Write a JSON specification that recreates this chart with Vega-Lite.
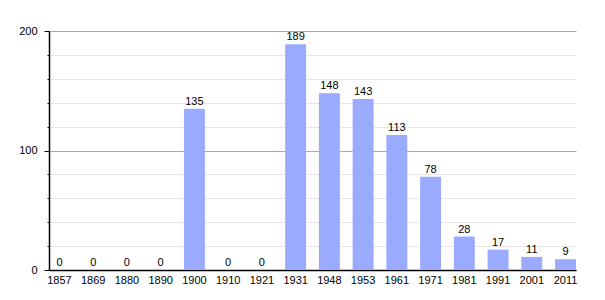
{
  "$schema": "https://vega.github.io/schema/vega-lite/v6.json",
  "autosize": "none",
  "padding": {"left": 49, "top": 31, "right": 29, "bottom": 30},
  "width": 527,
  "height": 239,
  "background": "white",
  "config": {"view": {"stroke": null}, "font": "Liberation Sans"},
  "data": {"values": [
    {"year": "1857", "pop": 0},
    {"year": "1869", "pop": 0},
    {"year": "1880", "pop": 0},
    {"year": "1890", "pop": 0},
    {"year": "1900", "pop": 135},
    {"year": "1910", "pop": 0},
    {"year": "1921", "pop": 0},
    {"year": "1931", "pop": 189},
    {"year": "1948", "pop": 148},
    {"year": "1953", "pop": 143},
    {"year": "1961", "pop": 113},
    {"year": "1971", "pop": 78},
    {"year": "1981", "pop": 28},
    {"year": "1991", "pop": 17},
    {"year": "2001", "pop": 11},
    {"year": "2011", "pop": 9}
  ]},
  "encoding": {
    "x": {
      "field": "year", "type": "ordinal", "sort": null,
      "scale": {"paddingInner": 0.38, "paddingOuter": 0},
      "axis": {
        "title": null, "labelAngle": 0, "ticks": false, "domainColor": "#000", "domainWidth": 1.5,
        "labelColor": "#000", "labelFontSize": 11, "labelPadding": 4, "grid": false
      }
    },
    "y": {
      "field": "pop", "type": "quantitative",
      "scale": {"domain": [0, 200], "nice": false},
      "axis": {
        "title": null,
        "values": [0, 20, 40, 60, 80, 100, 120, 140, 160, 180, 200],
        "labelExpr": "datum.value % 100 === 0 ? datum.label : ''",
        "grid": true,
        "gridColor": {"condition": {"test": "datum.value % 100 === 0", "value": "#aaaaaa"}, "value": "#e6e6e6"},
        "domainColor": "#000", "domainWidth": 1.5,
        "tickColor": "#000",
        "tickSize": {"condition": {"test": "datum.value % 100 === 0", "value": 5}, "value": 2},
        "labelColor": "#000", "labelFontSize": 11, "labelPadding": 7
      }
    }
  },
  "layer": [
    {"mark": {"type": "bar", "color": "#99aaff"}},
    {"mark": {"type": "text", "dy": -7, "fontSize": 11, "color": "#000"}, "encoding": {"text": {"field": "pop", "type": "quantitative"}}}
  ]
}
